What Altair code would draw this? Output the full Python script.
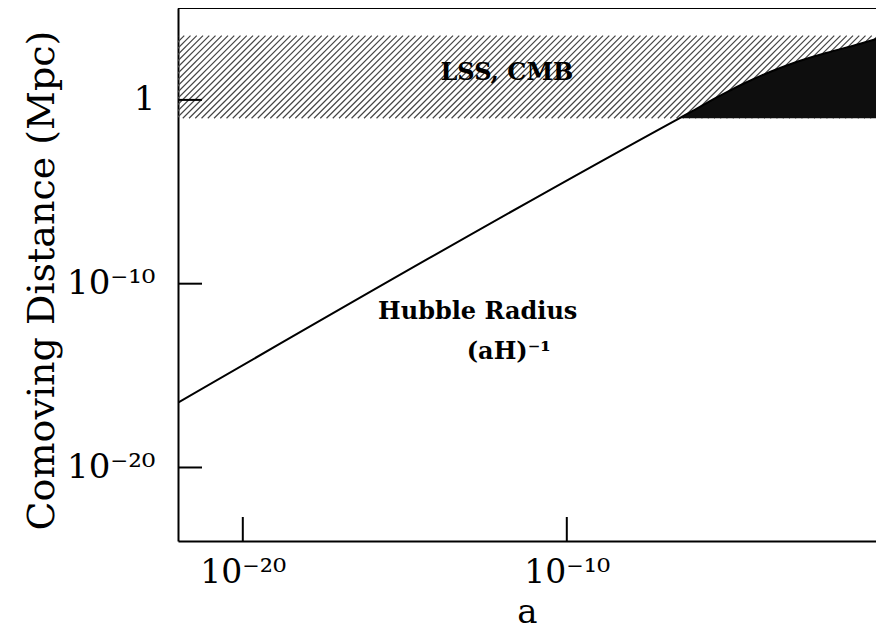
import altair as alt
import pandas as pd
import math

# ---- data ----
hubble_log_a = [-22.0, -6.53, -6.0, -5.5, -5.0, -4.5, -4.0, -3.5, -3.0, -2.0, -1.0, -0.21]
hubble_log_d = [-16.47, -1.0, -0.49, 0.01, 0.48, 0.92, 1.32, 1.68, 2.01, 2.55, 3.03, 3.43]
band_bottom = 0.1          # Mpc, bottom of LSS/CMB band
band_top = 10 ** 3.5       # Mpc, top of LSS/CMB band
x_ticks = [1e-20, 1e-10]
y_ticks = [1.0, 1e-10, 1e-20]
x_domain = [1e-22, 10 ** -0.457]
y_domain = [1e-24, 1e5]

label_texts = ["LSS, CMB", "Hubble Radius", "(aH)\u207b\u00b9"]
label_log_a = [-11.85, -12.75, -11.79]
label_log_d = [1.47, -11.52, -13.7]

# ---- layout ----
W, H = 698, 533
FONT = "DejaVu Serif"

line_df = pd.DataFrame({"a": [10 ** v for v in hubble_log_a],
                        "d": [10 ** v for v in hubble_log_d]})
area_df = line_df[line_df["a"] >= 10 ** -6.53].copy()
area_df["floor"] = band_bottom
labels_df = pd.DataFrame({"text": label_texts,
                          "a": [10 ** v for v in label_log_a],
                          "d": [10 ** v for v in label_log_d]})
xt_df = pd.DataFrame({"a": x_ticks})
yt_df = pd.DataFrame({"d": y_ticks})

xscale = alt.Scale(type="log", domain=x_domain, nice=False)
yscale = alt.Scale(type="log", domain=y_domain, nice=False)

LBL = "datum.value < 1e-15 ? '10\u207b\u00b2\u2070' : (datum.value < 1e-5 ? '10\u207b\u00b9\u2070' : '1')"

xaxis = alt.Axis(values=x_ticks, labelExpr=LBL,
                 ticks=False, grid=False, domainColor="black", domainWidth=2,
                 labelFont=FONT, labelFontSize=33, labelColor="black", labelPadding=15,
                 labelOverlap=False, labelFlush=False,
                 title="a", titleFont=FONT, titleFontSize=34, titleFontWeight="normal",
                 titleColor="black", titleX=W / 2, titleY=88, titleBaseline="bottom",
                 titleAlign="center")
yaxis = alt.Axis(values=y_ticks, labelExpr=LBL,
                 ticks=False, grid=False, domainColor="black", domainWidth=2,
                 labelFont=FONT, labelFontSize=34, labelColor="black", labelPadding=23,
                 labelOverlap=False, labelFlush=False,
                 title="Comoving Distance (Mpc)", titleFont=FONT, titleFontSize=38,
                 titleFontWeight="normal", titleColor="black", titleAngle=270,
                 titleX=-125, titleY=272, titleBaseline="alphabetic", titleAlign="center")


def X(field):
    return alt.X(field, type="quantitative", scale=xscale, axis=xaxis)


def Y(field):
    return alt.Y(field, type="quantitative", scale=yscale, axis=yaxis)


# hatch pattern for the LSS/CMB band (45 degree lines in pixel space)
px_dec_x = W / (math.log10(x_domain[1]) - math.log10(x_domain[0]))
px_dec_y = H / (math.log10(y_domain[1]) - math.log10(y_domain[0]))
band_px = (math.log10(band_top) - math.log10(band_bottom)) * px_dec_y
dlx = band_px / px_dec_x
step = 6.25 / px_dec_x
s0 = math.log10(x_domain[0]) - dlx - step
n_lines = int((math.log10(x_domain[1]) - s0) / step) + 2

hatch = alt.Chart(alt.sequence(0, n_lines, 1, as_="k")).transform_calculate(
    x1=f"pow(10, {s0} + datum.k * {step})",
    x2=f"pow(10, {s0} + datum.k * {step} + {dlx})",
    y1=f"{band_bottom}",
    y2=f"{band_top}",
).mark_rule(clip=True, stroke="#444444", strokeWidth=1.2).encode(
    x=X("x1"), x2="x2:Q", y=Y("y1"), y2="y2:Q")

dark = alt.Chart(area_df).mark_area(color="#0e0e0e", clip=True, interpolate="monotone").encode(
    x=X("a"), y=Y("d"), y2="floor:Q")

line = alt.Chart(line_df).mark_line(color="black", strokeWidth=2, clip=True,
                                    interpolate="monotone").encode(
    x=X("a"), y=Y("d"))

xticks = alt.Chart(xt_df).mark_rule(color="black", strokeWidth=2).encode(
    x=X("a"), y=alt.value(H), y2=alt.value(H - 24))
yticks = alt.Chart(yt_df).mark_rule(color="black", strokeWidth=2).encode(
    y=Y("d"), x=alt.value(0), x2=alt.value(24))

top_border = alt.Chart(xt_df).mark_rule(color="black", strokeWidth=2).encode(
    x=alt.value(0), x2=alt.value(W), y=alt.value(0))

texts = alt.Chart(labels_df).mark_text(font=FONT, fontSize=24, fontWeight="bold",
                                       color="black", align="center", baseline="middle").encode(
    x=X("a"), y=Y("d"), text="text:N")

chart = alt.layer(hatch, dark, line, xticks, yticks, top_border, texts).properties(
    width=W, height=H,
    autosize=alt.AutoSizeParams(type="none"),
    padding={"left": 170, "top": 0, "right": 0, "bottom": 89},
).configure_view(strokeWidth=0)

chart.save("out.html", embed_options={"renderer": "svg", "actions": False})
